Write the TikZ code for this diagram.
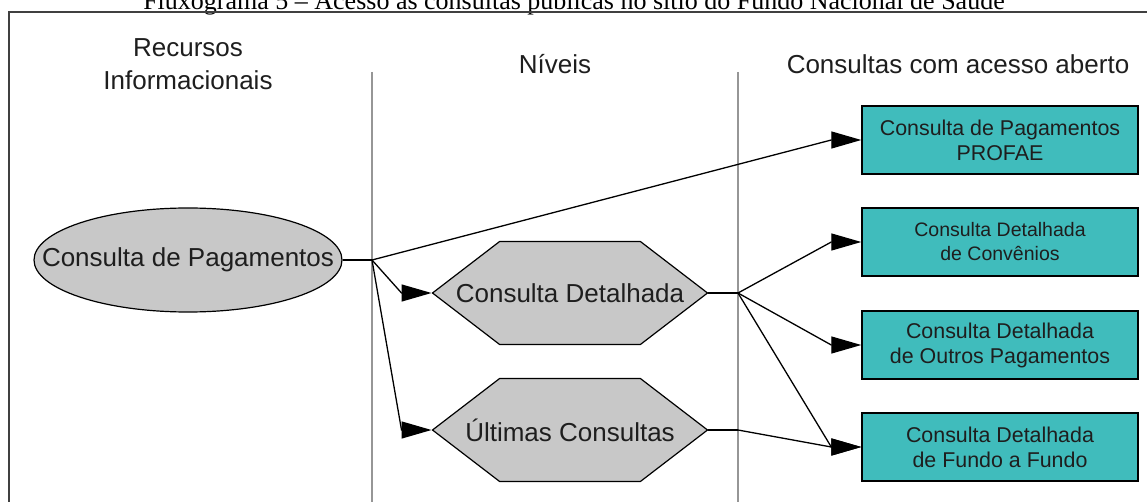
\documentclass[tikz,border=0pt]{standalone}
\usepackage{fontspec}
\setmainfont{Liberation Sans}
\newfontfamily\capfont{Liberation Serif}
\usetikzlibrary{shapes.geometric,shapes.symbols,arrows.meta}
\definecolor{boxteal}{RGB}{64,188,188}
\definecolor{shapegray}{RGB}{200,200,200}
\definecolor{sepgray}{RGB}{150,150,150}
\definecolor{inkdark}{RGB}{30,30,30}

\begin{document}
\begin{tikzpicture}[
	x=1pt,y=-1pt,
	font=\fontsize{26}{33}\selectfont,
	text=inkdark,
	res/.style={ellipse,draw,fill=shapegray,line width=1.2pt,minimum width=308pt,minimum height=104pt,inner sep=0pt},
	lvl/.style={signal,signal to=west and east,signal pointer angle=75,draw,fill=shapegray,line width=1.2pt,minimum width=275pt,minimum height=103pt,inner sep=0pt},
	qry/.style={rectangle,draw,fill=boxteal,line width=1.4pt,minimum width=276pt,minimum height=68pt,align=center,font=\fontsize{21.4}{25}\selectfont},
	head/.style={align=center},
	sep/.style={draw=sepgray,line width=1.2pt},
	conn/.style={line width=1.3pt},
	arr/.style={conn,-{Triangle[length=30pt,width=17pt]}},
	]
\useasboundingbox (0,0) rectangle (1147,502);
\clip (0,0) rectangle (1147,502);

\node [anchor=base,font=\capfont\fontsize{26}{30}\selectfont,text=black] (title) at (574,10) {Fluxograma 5 – Acesso às consultas públicas no sítio do Fundo Nacional de Saúde};
\draw [line width=1.6pt,draw=black!75] (1160,12) -- (9,12) -- (9,520);

\node [head] (hrec) at (188,64) {Recursos\\Informacionais};
\node [head] (hniv) at (555,64) {Níveis};
\node [head] (hcon) at (958,64) {Consultas com acesso aberto};

\draw [sep] (372,72) -- (372,510);
\draw [sep] (738,72) -- (738,510);

\node [res] (pag) at (188,260) {\makebox[0pt]{Consulta de Pagamentos}};
\node [lvl] (det) at (570,293) {\makebox[0pt]{Consulta Detalhada}};
\node [lvl] (ult) at (570,430) {\makebox[0pt]{Últimas Consultas}};

\node [qry] (profae) at (1000,140) {Consulta de Pagamentos\\PROFAE};
\node [qry,font=\fontsize{19.5}{24}\selectfont] (conv) at (1000,242) {Consulta Detalhada\\de Convênios};
\node [qry] (outros) at (1000,345) {Consulta Detalhada\\de Outros Pagamentos};
\node [qry] (fundo) at (1000,447) {Consulta Detalhada\\de Fundo a Fundo};

\coordinate (b1) at (372,260);
\coordinate (b2) at (738,293);
\coordinate (b3) at (738,430);

\draw [conn] (pag.east) -- (b1);
\draw [arr] (b1) -- ([xshift=-30pt]profae.west) -- (profae.west);
\draw [arr] (b1) -- ([xshift=-30pt]det.west) -- (det.west);
\draw [arr] (b1) -- ([xshift=-30pt]ult.west) -- (ult.west);

\draw [conn] (det.east) -- (b2);
\draw [arr] (b2) -- ([xshift=-30pt]conv.west) -- (conv.west);
\draw [arr] (b2) -- ([xshift=-30pt]outros.west) -- (outros.west);
\draw [arr] (b2) -- ([xshift=-30pt]fundo.west) -- (fundo.west);

\draw [conn] (ult.east) -- (b3);
\draw [arr] (b3) -- ([xshift=-30pt]fundo.west) -- (fundo.west);
\end{tikzpicture}
\end{document}
